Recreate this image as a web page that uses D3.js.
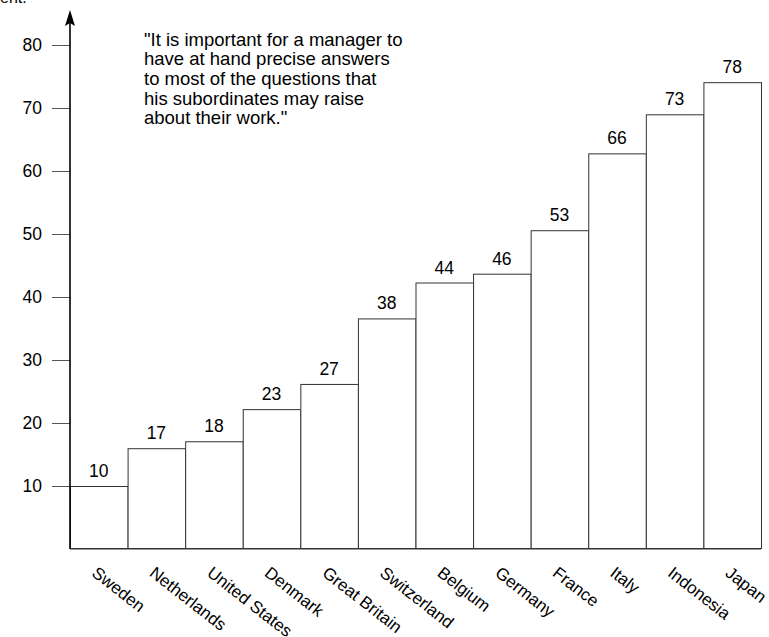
<!DOCTYPE html>
<html>
<head>
<meta charset="utf-8">
<script src="https://cdn.jsdelivr.net/npm/d3@7"></script>
<style>
  html, body { margin: 0; padding: 0; background: #fff; }
  svg { display: block; }
  text { font-family: "Liberation Sans", Arial, Helvetica, sans-serif; fill: #000; }
</style>
</head>
<body>
<svg id="chart" width="769" height="637"></svg>
<script>
// ---- data ----
const countries = ["Sweden", "Netherlands", "United States", "Denmark", "Great Britain",
  "Switzerland", "Belgium", "Germany", "France", "Italy", "Indonesia", "Japan"];
// printed value labels
const valueLabels = [10, 17, 18, 23, 27, 38, 44, 46, 53, 66, 73, 78];
// bar heights as drawn in the picture (read against the axis)
const barHeights = [10, 16, 17.1, 22.2, 26.2, 36.6, 42.3, 43.7, 50.6, 62.8, 69, 74.1];
const yTicks = [10, 20, 30, 40, 50, 60, 70, 80];
const quoteLines = [
  "\"It is important for a manager to",
  "have at hand precise answers",
  "to most of the questions that",
  "his subordinates may raise",
  "about their work.\""
];

const FONT = "\"Liberation Sans\", Arial, Helvetica, sans-serif";
const svg = d3.select("#chart");
const x = d3.scaleBand().domain(countries).range([70, 761]).padding(0);
const y = d3.scaleLinear().domain([0, 80]).range([549, 45]);

// partial cut-off text at the top-left (cut in the reference too)
svg.append("text").attr("x", 0).attr("y", 3).attr("font-size", 16).text("ent.");

// bars
svg.append("g").selectAll("rect").data(countries).join("rect")
  .attr("x", d => x(d) + 0.5)
  .attr("y", (d, i) => y(barHeights[i]) + 0.5)
  .attr("width", x.bandwidth())
  .attr("height", (d, i) => y(0) - y(barHeights[i]) - 1)
  .attr("fill", "#fff")
  .attr("stroke", "#333")
  .attr("stroke-width", 1);

// value labels
svg.append("g").selectAll("text").data(countries).join("text")
  .attr("x", d => x(d) + x.bandwidth() / 2)
  .attr("y", (d, i) => y(barHeights[i]) - 9)
  .attr("text-anchor", "middle")
  .attr("font-size", 17.5)
  .text((d, i) => valueLabels[i]);

// y axis with ticks on the left
const yAxis = d3.axisLeft(y).tickValues(yTicks).tickSize(18).tickPadding(10);
const gy = svg.append("g").attr("transform", "translate(70,0)").call(yAxis);
gy.select(".domain").remove();
gy.selectAll(".tick line").attr("stroke", "#555").attr("stroke-width", 1);
gy.selectAll(".tick text")
  .attr("font-size", 17.5)
  .attr("font-family", FONT)
  .attr("fill", "#000");

// vertical axis line with arrow
svg.append("line").attr("x1", 70).attr("x2", 70).attr("y1", y(0)).attr("y2", 22)
  .attr("stroke", "#000").attr("stroke-width", 1.6);
svg.append("path").attr("d", "M70,10 L75,26 L70,23 L65,26 Z").attr("fill", "#000");

// baseline
svg.append("line").attr("x1", 70).attr("x2", 761).attr("y1", y(0)).attr("y2", y(0))
  .attr("stroke", "#333").attr("stroke-width", 1.2);

// x labels, rotated
const xAxis = d3.axisBottom(x).tickSize(0).tickPadding(0);
const gx = svg.append("g").attr("transform", `translate(0,${y(0)})`).call(xAxis);
gx.select(".domain").remove();
gx.selectAll(".tick text")
  .attr("font-size", 17)
  .attr("font-family", FONT)
  .attr("fill", "#000")
  .attr("text-anchor", "start")
  .attr("dy", null)
  .attr("y", 0)
  .attr("transform", "translate(-8,26) rotate(38)");

// quote
svg.append("text").attr("x", 144).attr("y", 45.5).attr("font-size", 18.5)
  .selectAll("tspan").data(quoteLines).join("tspan")
  .attr("x", 144).attr("dy", (d, i) => i === 0 ? 0 : 19.7)
  .text(d => d);
</script>
</body>
</html>
